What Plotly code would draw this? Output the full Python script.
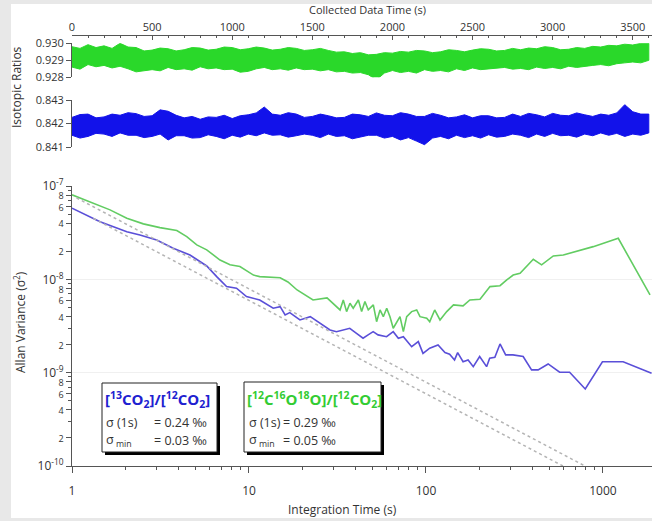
import plotly.graph_objects as go

W, H = 652, 521

# ---------------- data ----------------
# time series: envelope (upper / lower extent) of the 1 s data, read every 50 s
ts_time = list(range(0, 3650, 50))
green_upper = [0.92980, 0.92970, 0.92992, 0.92975, 0.92985, 0.92970, 0.93000, 0.92978, 0.92975, 0.92955,
               0.92960, 0.92972, 0.92968, 0.92955, 0.92962, 0.92975, 0.92972, 0.92960, 0.92965, 0.92978,
               0.92975, 0.92962, 0.92968, 0.92978, 0.92972, 0.92960, 0.92965, 0.92975, 0.92970, 0.92958,
               0.92962, 0.92970, 0.92958, 0.92948, 0.92950, 0.92940, 0.92945, 0.92932, 0.92935, 0.92945,
               0.92942, 0.92952, 0.92948, 0.92958, 0.92955, 0.92945, 0.92950, 0.92962, 0.92958, 0.92950,
               0.92960, 0.92968, 0.92965, 0.92955, 0.92958, 0.92970, 0.92962, 0.92972, 0.92968, 0.92980,
               0.92975, 0.92962, 0.92965, 0.92975, 0.92970, 0.92982, 0.92978, 0.92988, 0.92985, 0.92995,
               0.92990, 0.93000, 0.93000]
green_lower = [0.92860, 0.92848, 0.92875, 0.92862, 0.92870, 0.92855, 0.92865, 0.92850, 0.92832, 0.92840,
               0.92845, 0.92838, 0.92858, 0.92845, 0.92850, 0.92842, 0.92862, 0.92850, 0.92855, 0.92845,
               0.92848, 0.92830, 0.92835, 0.92850, 0.92858, 0.92845, 0.92850, 0.92842, 0.92855, 0.92845,
               0.92848, 0.92838, 0.92845, 0.92832, 0.92835, 0.92825, 0.92828, 0.92815, 0.92785, 0.92825,
               0.92840, 0.92828, 0.92835, 0.92825, 0.92845, 0.92835, 0.92840, 0.92832, 0.92850, 0.92840,
               0.92855, 0.92845, 0.92848, 0.92855, 0.92858, 0.92848, 0.92852, 0.92845, 0.92860, 0.92852,
               0.92858, 0.92850, 0.92865, 0.92858, 0.92862, 0.92870, 0.92875, 0.92868, 0.92880, 0.92885,
               0.92890, 0.92885, 0.92900]
blue_upper = [0.84226, 0.84238, 0.84240, 0.84224, 0.84228, 0.84240, 0.84235, 0.84246, 0.84242, 0.84230,
              0.84233, 0.84258, 0.84252, 0.84235, 0.84224, 0.84230, 0.84218, 0.84228, 0.84226, 0.84235,
              0.84221, 0.84233, 0.84237, 0.84245, 0.84270, 0.84240, 0.84235, 0.84246, 0.84240, 0.84226,
              0.84230, 0.84240, 0.84233, 0.84224, 0.84226, 0.84240, 0.84237, 0.84230, 0.84245, 0.84235,
              0.84233, 0.84246, 0.84240, 0.84230, 0.84230, 0.84243, 0.84235, 0.84224, 0.84228, 0.84237,
              0.84224, 0.84233, 0.84233, 0.84224, 0.84226, 0.84240, 0.84230, 0.84243, 0.84237, 0.84228,
              0.84243, 0.84235, 0.84233, 0.84245, 0.84237, 0.84230, 0.84240, 0.84235, 0.84245, 0.84280,
              0.84250, 0.84240, 0.84240]
blue_lower = [0.84150, 0.84138, 0.84145, 0.84158, 0.84155, 0.84145, 0.84160, 0.84150, 0.84150, 0.84140,
              0.84145, 0.84155, 0.84130, 0.84148, 0.84148, 0.84138, 0.84140, 0.84152, 0.84145, 0.84135,
              0.84150, 0.84142, 0.84155, 0.84148, 0.84160, 0.84150, 0.84152, 0.84142, 0.84148, 0.84155,
              0.84150, 0.84140, 0.84155, 0.84145, 0.84148, 0.84135, 0.84142, 0.84150, 0.84150, 0.84138,
              0.84145, 0.84130, 0.84140, 0.84125, 0.84110, 0.84138, 0.84145, 0.84135, 0.84150, 0.84140,
              0.84148, 0.84138, 0.84152, 0.84142, 0.84145, 0.84155, 0.84150, 0.84140, 0.84155, 0.84145,
              0.84158, 0.84148, 0.84150, 0.84142, 0.84155, 0.84148, 0.84160, 0.84150, 0.84158, 0.84145,
              0.84155, 0.84150, 0.84160]

# Allan variance curves
green_tau = [1.0, 1.32, 1.64, 2.04, 2.53, 3.14, 3.91, 4.45, 5.07, 5.77, 6.86, 7.81, 8.89, 10.6, 11.5,
             15.0, 16.6, 18.7, 23.0, 27.6, 29.8, 32.7, 34.1, 35.6, 37.2, 38.8, 41.5, 43.3, 45.2, 47.2,
             50.4, 52.6, 55.0, 57.4, 60.0, 62.6, 65.3, 68.3, 71.3, 74.5, 77.8, 83.0, 88.6, 92.5, 101,
             105, 112, 120, 131, 143, 162, 177, 202, 230, 262, 286, 311, 340, 404, 450, 524, 597, 710,
             881, 1220, 1844]
green_avar = [8.04e-8, 6.55e-8, 5.55e-8, 4.52e-8, 3.93e-8, 3.58e-8, 3.33e-8, 2.87e-8, 2.34e-8, 2.07e-8,
              1.61e-8, 1.43e-8, 1.37e-8, 1.11e-8, 1.07e-8, 1.04e-8, 9.37e-9, 7.69e-9, 6.01e-9, 6.32e-9,
              5.58e-9, 4.70e-9, 6.01e-9, 4.51e-9, 5.54e-9, 4.90e-9, 6.01e-9, 4.51e-9, 5.77e-9, 4.70e-9,
              5.32e-9, 3.52e-9, 4.70e-9, 3.98e-9, 4.90e-9, 3.98e-9, 2.99e-9, 3.52e-9, 3.98e-9, 2.75e-9,
              3.98e-9, 4.51e-9, 4.70e-9, 3.98e-9, 3.83e-9, 3.52e-9, 4.70e-9, 3.67e-9, 4.51e-9, 5.32e-9,
              5.19e-9, 6.01e-9, 6.12e-9, 8.36e-9, 8.55e-9, 9.86e-9, 1.11e-8, 1.16e-8, 1.64e-8, 1.43e-8,
              1.78e-8, 1.82e-8, 1.98e-8, 2.24e-8, 2.75e-8, 6.81e-9]
blue_tau = [1.0, 1.44, 2.04, 2.42, 3.01, 3.73, 4.64, 5.77, 6.57, 7.47, 8.50, 9.68, 11.5, 13.7, 15.0,
            16.0, 17.0, 19.4, 22.2, 25.2, 28.7, 31.2, 34.9, 37.1, 40.5, 44.1, 47.1, 50.3, 53.6, 59.9,
            65.3, 69.8, 74.5, 83.0, 90.5, 96.2, 105, 117, 128, 136, 145, 151, 162, 173, 185, 201, 220,
            229, 245, 262, 282, 310, 354, 395, 430, 490, 569, 648, 794, 993, 1300, 1882]
blue_avar = [5.78e-8, 4.15e-8, 3.24e-8, 2.99e-8, 2.64e-8, 2.15e-8, 1.82e-8, 1.39e-8, 1.07e-8, 8.36e-9,
             8.04e-9, 6.53e-9, 6.01e-9, 4.90e-9, 5.09e-9, 4.15e-9, 4.40e-9, 3.67e-9, 3.98e-9, 3.38e-9,
             2.87e-9, 2.75e-9, 2.87e-9, 2.99e-9, 2.64e-9, 2.34e-9, 2.54e-9, 2.75e-9, 2.54e-9, 2.43e-9,
             2.75e-9, 2.34e-9, 2.43e-9, 1.90e-9, 2.15e-9, 1.61e-9, 1.83e-9, 1.98e-9, 1.64e-9, 1.58e-9,
             1.37e-9, 1.64e-9, 1.31e-9, 1.37e-9, 1.16e-9, 1.49e-9, 1.16e-9, 1.43e-9, 1.46e-9, 2.03e-9,
             1.55e-9, 1.55e-9, 1.49e-9, 1.07e-9, 1.07e-9, 1.24e-9, 1.01e-9, 1.01e-9, 6.68e-10, 1.31e-9,
             1.31e-9, 9.87e-10]

# white-noise reference lines (slope -1)
green_ref_tau = [1.06, 791]
green_ref_avar = [7.46e-8, 1.0e-10]
blue_ref_tau = [1.32, 594]
blue_ref_avar = [4.50e-8, 1.0e-10]

# ---------------- styling ----------------
GREEN_TS = "#2ad82a"
BLUE_TS = "#1212ea"
GREEN_AV = "#62cc62"
BLUE_AV = "#5a4fd8"
REF = "#b4b4b4"
AX = "#555555"
TXT = "#333333"
FONT = "Open Sans"


def px(x):
    return x / W


def py(y):
    return 1 - y / H


fig = go.Figure()

fig.add_trace(go.Scatter(x=ts_time + ts_time[::-1], y=green_upper + green_lower[::-1],
                         fill="toself", fillcolor=GREEN_TS, mode="lines",
                         line=dict(color=GREEN_TS, width=1), xaxis="x2", yaxis="y2",
                         hoverinfo="skip", showlegend=False))
fig.add_trace(go.Scatter(x=ts_time + ts_time[::-1], y=blue_upper + blue_lower[::-1],
                         fill="toself", fillcolor=BLUE_TS, mode="lines",
                         line=dict(color=BLUE_TS, width=1), xaxis="x2", yaxis="y3",
                         hoverinfo="skip", showlegend=False))

fig.add_trace(go.Scatter(x=green_ref_tau, y=green_ref_avar, mode="lines",
                         line=dict(color=REF, width=1.5, dash="dot"), xaxis="x", yaxis="y4",
                         showlegend=False))
fig.add_trace(go.Scatter(x=blue_ref_tau, y=blue_ref_avar, mode="lines",
                         line=dict(color=REF, width=1.5, dash="dot"), xaxis="x", yaxis="y4",
                         showlegend=False))
fig.add_trace(go.Scatter(x=green_tau, y=green_avar, mode="lines",
                         line=dict(color=GREEN_AV, width=1.6), xaxis="x", yaxis="y",
                         showlegend=False))
fig.add_trace(go.Scatter(x=blue_tau, y=blue_avar, mode="lines",
                         line=dict(color=BLUE_AV, width=1.6), xaxis="x", yaxis="y",
                         showlegend=False))

# tick definitions for the log axes
dec = [1e-10, 1e-9, 1e-8, 1e-7]
y_tickvals, y_ticktext = [], []
for i, d in enumerate(dec):
    y_tickvals.append(d)
    y_ticktext.append("10<sup>%d</sup>" % (-10 + i))
    if i < 3:
        for m in (2, 4, 6, 8):
            y_tickvals.append(m * d)
            y_ticktext.append("<span style='font-size:9px'>%d</span>" % m)
y_minor = [m * d for d in dec[:3] for m in (3, 5, 7, 9)]
x_minor = [m * d for d in (1, 10, 100, 1000) for m in range(2, 10) if m * d < 2000]

xdom = [px(72), 1.0]

fig.update_layout(
    template="none",
    width=W, height=H,
    autosize=False,
    margin=dict(l=0, r=0, t=0, b=0, pad=0, autoexpand=False),
    paper_bgcolor="#e8e8e8",
    plot_bgcolor="rgba(0,0,0,0)",
    font=dict(family=FONT, color=TXT, size=11),
    showlegend=False,
    xaxis=dict(type="log", range=[0, 3.277], domain=xdom, anchor="y", automargin=False,
               showline=True, linecolor=AX, linewidth=1, ticks="outside", ticklen=6,
               tickcolor=AX, tickvals=[1, 10, 100, 1000], ticktext=["1", "10", "100", "1000"],
               tickfont=dict(size=12, color=TXT), ticklabelstandoff=8,
               minor=dict(tickmode="array", tickvals=x_minor, ticks="outside", ticklen=3,
                          tickcolor=AX, showgrid=False),
               showgrid=False, zeroline=False),
    yaxis=dict(type="log", range=[-10, -7], domain=[py(466), py(186)], anchor="x",
               automargin=False,
               showline=True, linecolor=AX, linewidth=1, ticks="outside", ticklen=5,
               tickcolor=AX, tickvals=y_tickvals, ticktext=y_ticktext,
               tickfont=dict(size=12, color=TXT),
               minor=dict(tickmode="array", tickvals=y_minor, ticks="outside", ticklen=3,
                          tickcolor=AX, showgrid=False),
               showgrid=False, zeroline=False),
    yaxis4=dict(type="log", range=[-10, -7], overlaying="y", anchor="x", automargin=False,
                tickvals=dec, showticklabels=False, ticks="", showline=False,
                showgrid=True, gridcolor="#f0f0f0", gridwidth=1, zeroline=False),
    xaxis2=dict(range=[0, 3620], domain=xdom, anchor="free", position=py(35), side="top",
                automargin=False,
                showline=True, linecolor=AX, linewidth=1, ticks="inside", ticklen=4,
                tickcolor=AX, tick0=0, dtick=500, tickfont=dict(size=11, color=TXT),
                minor=dict(dtick=100, ticks="inside", ticklen=2, tickcolor=AX, showgrid=False),
                showgrid=False, zeroline=False),
    yaxis2=dict(range=[0.928, 0.930], domain=[py(77.3), py(43.3)], anchor="x2",
                automargin=False,
                showline=True, linecolor=AX, linewidth=1, ticks="outside", ticklen=5,
                tickcolor=AX, tickvals=[0.928, 0.929, 0.930], ticktext=["0.928", "0.929", "0.930"],
                tickfont=dict(size=11, color=TXT), showgrid=False, zeroline=False),
    yaxis3=dict(range=[0.841, 0.843], domain=[py(147), py(100)], anchor="x2",
                automargin=False,
                showline=True, linecolor=AX, linewidth=1, ticks="outside", ticklen=5,
                tickcolor=AX, tickvals=[0.841, 0.842, 0.843], ticktext=["0.841", "0.842", "0.843"],
                tickfont=dict(size=11, color=TXT), showgrid=False, zeroline=False),
)

shapes = [
    # white panel
    dict(type="rect", xref="paper", yref="paper", x0=px(11), x1=1.0, y0=py(518), y1=py(4),
         fillcolor="white", line=dict(width=0), layer="below"),
]
# legend boxes with drop shadow
for (x0, x1, y0, y1) in [(102, 217, 383, 452), (244, 381, 382, 452)]:
    shapes.append(dict(type="rect", xref="paper", yref="paper", x0=px(x0 + 3), x1=px(x1 + 3),
                       y0=py(y1 + 3), y1=py(y0 + 3), fillcolor="black", line=dict(width=0),
                       layer="above"))
    shapes.append(dict(type="rect", xref="paper", yref="paper", x0=px(x0), x1=px(x1),
                       y0=py(y1), y1=py(y0), fillcolor="white",
                       line=dict(color="#222222", width=1), layer="above"))
fig.update_layout(shapes=shapes)

ann = []


def add_text(text, x, y, size=12, color=TXT, xanchor="left", angle=0, bold=False):
    ann.append(dict(text=("<b>%s</b>" % text) if bold else text, x=px(x), y=py(y),
                    xref="paper", yref="paper", showarrow=False, xanchor=xanchor,
                    yanchor="middle", textangle=angle,
                    font=dict(family=FONT, size=size, color=color)))


add_text("Collected Data Time (s)", 367, 9, size=11, xanchor="center")
add_text("Isotopic Ratios", 17, 87, size=12, xanchor="center", angle=-90)
add_text("Allan Variance (σ<sup>2</sup>)", 20, 322, size=12, xanchor="center", angle=-90)
add_text("Integration Time (s)", 342, 509, size=12, xanchor="center")

# legend box 1
add_text("[<sup>13</sup>CO<sub>2</sub>]/[<sup>12</sup>CO<sub>2</sub>]", 103, 399, size=15,
         color="#2020d0", bold=True)
add_text("σ (1s)", 104, 422, size=12.5)
add_text("= 0.24 ‰", 152, 422, size=12.5)
add_text("σ<sub> min</sub>", 104, 440, size=12.5)
add_text("= 0.03 ‰", 152, 440, size=12.5)
# legend box 2
add_text("[<sup>12</sup>C<sup>16</sup>O<sup>18</sup>O]/[<sup>12</sup>CO<sub>2</sub>]", 245, 399,
         size=15, color="#33cc33", bold=True)
add_text("σ (1s)", 247, 422, size=12.5)
add_text("= 0.29 ‰", 281, 422, size=12.5)
add_text("σ<sub> min</sub>", 247, 440, size=12.5)
add_text("= 0.05 ‰", 281, 440, size=12.5)

fig.update_layout(annotations=ann)

fig.write_html(
    "out.html",
    config={"responsive": False, "displayModeBar": False},
    post_script=(
        "document.documentElement.style.margin='0';"
        "document.body.style.margin='0';document.body.style.padding='0';"
        "document.documentElement.style.overflow='hidden';document.body.style.overflow='hidden';"
    ),
)
